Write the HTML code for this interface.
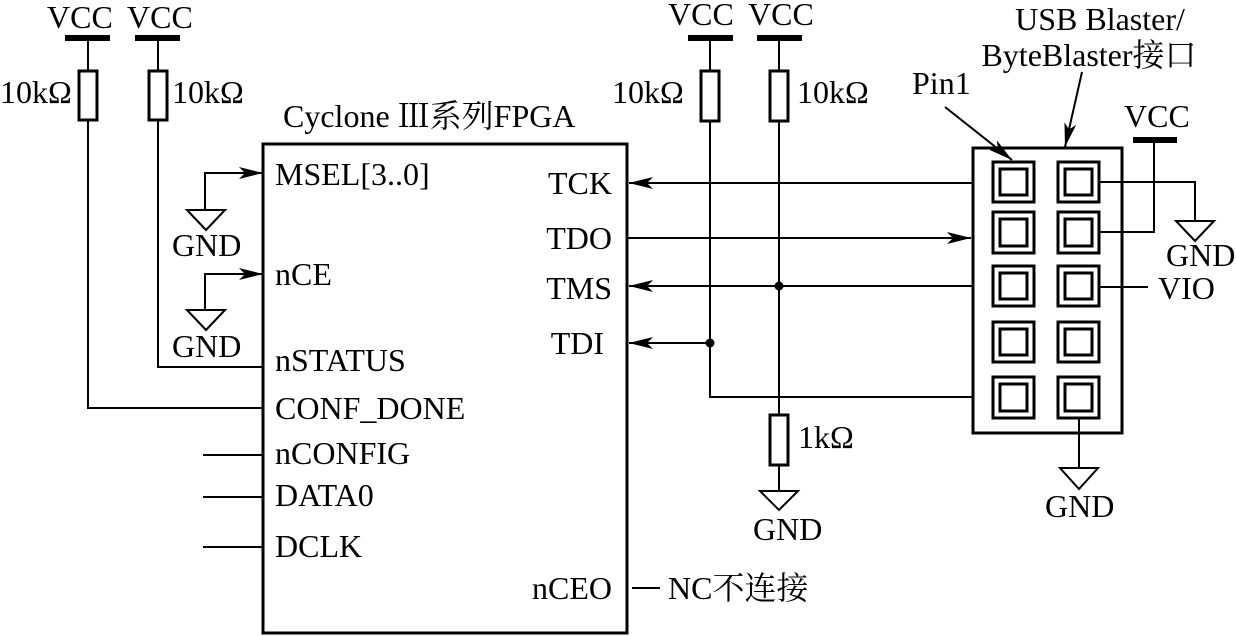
<!DOCTYPE html>
<html><head><meta charset="utf-8"><style>
html,body{margin:0;padding:0;background:#fff;width:1236px;height:636px;overflow:hidden}
text{font-family:"Liberation Serif","Noto Serif CJK SC","Noto Sans CJK SC",serif;font-size:32px;fill:#000}
</style></head><body>
<svg width="1236" height="636" viewBox="0 0 1236 636" xmlns="http://www.w3.org/2000/svg">
<defs>
<marker id="ar" viewBox="0 0 24 12" refX="24" refY="6" markerWidth="24" markerHeight="12" markerUnits="userSpaceOnUse" orient="auto">
<path d="M0,0 L24,6 L0,12 L6,6 Z" fill="#000"/></marker>
</defs>
<g stroke="#000" stroke-width="2" fill="none">
<rect x="263" y="144" width="364" height="489" stroke-width="3"/>
<line x1="65" y1="38" x2="110" y2="38" stroke-width="6"/>
<line x1="135" y1="38" x2="180" y2="38" stroke-width="6"/>
<rect x="79" y="71" width="18" height="49" stroke-width="3"/>
<rect x="149" y="71" width="18" height="49" stroke-width="3"/>
<polyline points="88,38 88,71"/><polyline points="158,38 158,71"/>
<polyline points="88,120 88,408 263,408"/>
<polyline points="158,120 158,367 263,367"/>
<polyline points="205,210 205,173 263,173" marker-end="url(#ar)"/>
<polygon points="187,210 225,210 206,230"/>
<polyline points="205,310 205,274 263,274" marker-end="url(#ar)"/>
<polygon points="187,310 225,310 206,330"/>
<line x1="203" y1="455" x2="263" y2="455"/>
<line x1="203" y1="497" x2="263" y2="497"/>
<line x1="203" y1="547" x2="263" y2="547"/>
<line x1="632" y1="588" x2="660" y2="588"/>
<line x1="688" y1="38" x2="733" y2="38" stroke-width="6"/>
<line x1="757" y1="38" x2="802" y2="38" stroke-width="6"/>
<rect x="701" y="71" width="18" height="50" stroke-width="3"/>
<rect x="770" y="71" width="18" height="50" stroke-width="3"/>
<line x1="710" y1="38" x2="710" y2="71"/><line x1="779" y1="38" x2="779" y2="71"/>
<polyline points="710,121 710,397 973,397"/>
<line x1="779" y1="121" x2="779" y2="415"/>
<rect x="770" y="415" width="18" height="50" stroke-width="3"/>
<line x1="779" y1="465" x2="779" y2="491"/>
<polygon points="760,491 798,491 779,510"/>
<line x1="973" y1="183" x2="629" y2="183" marker-end="url(#ar)"/>
<line x1="627" y1="238" x2="971" y2="238" marker-end="url(#ar)"/>
<line x1="973" y1="286" x2="629" y2="286" marker-end="url(#ar)"/>
<line x1="710" y1="343" x2="629" y2="343" marker-end="url(#ar)"/>
<rect x="973" y="148" width="149" height="285" stroke-width="3"/>
<g stroke-width="3">
<rect x="993" y="162" width="41" height="40"/><rect x="1000" y="169" width="27" height="26"/>
<rect x="1058" y="162" width="41" height="40"/><rect x="1065" y="169" width="27" height="26"/>
<rect x="993" y="212" width="41" height="41"/><rect x="1000" y="219" width="27" height="27"/>
<rect x="1058" y="212" width="41" height="41"/><rect x="1065" y="219" width="27" height="27"/>
<rect x="993" y="266" width="41" height="40"/><rect x="1000" y="273" width="27" height="26"/>
<rect x="1058" y="266" width="41" height="40"/><rect x="1065" y="273" width="27" height="26"/>
<rect x="993" y="322" width="41" height="40"/><rect x="1000" y="329" width="27" height="26"/>
<rect x="1058" y="322" width="41" height="40"/><rect x="1065" y="329" width="27" height="26"/>
<rect x="993" y="377" width="41" height="41"/><rect x="1000" y="384" width="27" height="27"/>
<rect x="1058" y="377" width="41" height="41"/><rect x="1065" y="384" width="27" height="27"/>
</g>
<polyline points="1099,182 1195,182 1195,221"/>
<polygon points="1176,221 1214,221 1195,241"/>
<line x1="1133" y1="140" x2="1177" y2="140" stroke-width="6"/>
<polyline points="1154,140 1154,232 1099,232"/>
<line x1="1099" y1="287" x2="1148" y2="287"/>
<line x1="1079" y1="418" x2="1079" y2="468"/>
<polygon points="1060,468 1098,468 1079,489"/>
<line x1="945" y1="107" x2="1012" y2="160" marker-end="url(#ar)"/>
<line x1="1082" y1="72" x2="1065" y2="147" marker-end="url(#ar)"/>
</g>
<circle cx="779" cy="286" r="4.5"/>
<circle cx="710" cy="343" r="4.5"/>
<text x="47" y="28">VCC</text><text x="127" y="28">VCC</text>
<text x="0" y="103">10kΩ</text><text x="172" y="103">10kΩ</text>
<text x="283" y="127">Cyclone Ⅲ系列FPGA</text>
<text x="275" y="185">MSEL[3..0]</text>
<text x="172" y="256">GND</text>
<text x="275" y="285">nCE</text>
<text x="172" y="357">GND</text>
<text x="275" y="371">nSTATUS</text>
<text x="275" y="419">CONF_DONE</text>
<text x="275" y="464">nCONFIG</text>
<text x="275" y="506">DATA0</text>
<text x="275" y="557">DCLK</text>
<g text-anchor="end">
<text x="612" y="194">TCK</text><text x="612" y="249">TDO</text>
<text x="612" y="299">TMS</text><text x="604" y="354">TDI</text>
<text x="612" y="599">nCEO</text>
</g>
<text x="668" y="599">NC不连接</text>
<text x="668" y="25">VCC</text><text x="748" y="25">VCC</text>
<text x="612" y="103">10kΩ</text><text x="797" y="103">10kΩ</text>
<text x="798" y="448">1kΩ</text>
<text x="753" y="540">GND</text>
<text x="1100" y="30" text-anchor="middle">USB Blaster/</text>
<text x="1089" y="66" text-anchor="middle">ByteBlaster接口</text>
<text x="912" y="94">Pin1</text>
<text x="1124" y="127">VCC</text>
<text x="1166" y="266">GND</text>
<text x="1158" y="299">VIO</text>
<text x="1045" y="517">GND</text>
</svg>
</body></html>
